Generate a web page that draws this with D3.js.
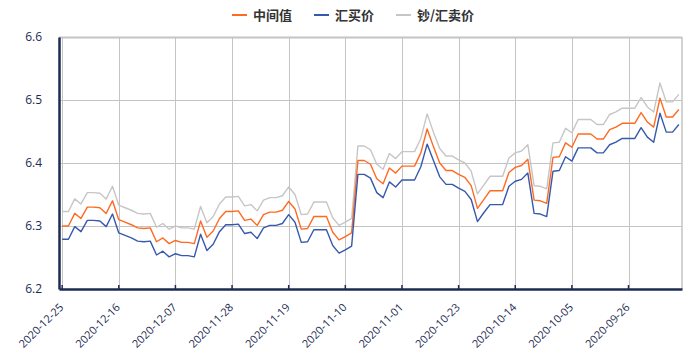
<!DOCTYPE html>
<html>
<head>
<meta charset="utf-8">
<script src="https://cdn.jsdelivr.net/npm/d3@7"></script>
<style>
body { margin: 0; background: #fff; }
</style>
</head>
<body>
<div id="chart-area"></div>
<script>
// Dates run backwards, newest on the left
var dates = [
    "2020-12-25", "2020-12-24", "2020-12-23", "2020-12-22", "2020-12-21", "2020-12-20", "2020-12-19", "2020-12-18", "2020-12-17", "2020-12-16",
    "2020-12-15", "2020-12-14", "2020-12-13", "2020-12-12", "2020-12-11", "2020-12-10", "2020-12-09", "2020-12-08", "2020-12-07", "2020-12-06",
    "2020-12-05", "2020-12-04", "2020-12-03", "2020-12-02", "2020-12-01", "2020-11-30", "2020-11-29", "2020-11-28", "2020-11-27", "2020-11-26",
    "2020-11-25", "2020-11-24", "2020-11-23", "2020-11-22", "2020-11-21", "2020-11-20", "2020-11-19", "2020-11-18", "2020-11-17", "2020-11-16",
    "2020-11-15", "2020-11-14", "2020-11-13", "2020-11-12", "2020-11-11", "2020-11-10", "2020-11-09", "2020-11-08", "2020-11-07", "2020-11-06",
    "2020-11-05", "2020-11-04", "2020-11-03", "2020-11-02", "2020-11-01", "2020-10-31", "2020-10-30", "2020-10-29", "2020-10-28", "2020-10-27",
    "2020-10-26", "2020-10-25", "2020-10-24", "2020-10-23", "2020-10-22", "2020-10-21", "2020-10-20", "2020-10-19", "2020-10-18", "2020-10-17",
    "2020-10-16", "2020-10-15", "2020-10-14", "2020-10-13", "2020-10-12", "2020-10-11", "2020-10-10", "2020-10-09", "2020-10-08", "2020-10-07",
    "2020-10-06", "2020-10-05", "2020-10-04", "2020-10-03", "2020-10-02", "2020-10-01", "2020-09-30", "2020-09-29", "2020-09-28", "2020-09-27",
    "2020-09-26", "2020-09-25", "2020-09-24", "2020-09-23", "2020-09-22", "2020-09-21", "2020-09-20", "2020-09-19", "2020-09-18"
];

// 中间值
var midRate = [
    6.300, 6.300, 6.320, 6.312, 6.330, 6.330, 6.329, 6.320, 6.340, 6.310,
    6.306, 6.302, 6.297, 6.296, 6.297, 6.275, 6.281, 6.272, 6.277, 6.274,
    6.274, 6.272, 6.308, 6.282, 6.292, 6.312, 6.323, 6.323, 6.324, 6.309,
    6.311, 6.301, 6.318, 6.322, 6.322, 6.325, 6.339, 6.327, 6.295, 6.296,
    6.315, 6.315, 6.315, 6.290, 6.278, 6.283, 6.289, 6.404, 6.404, 6.398,
    6.375, 6.367, 6.392, 6.384, 6.395, 6.395, 6.395, 6.416, 6.454, 6.426,
    6.400, 6.388, 6.388, 6.382, 6.377, 6.364, 6.328, 6.342, 6.356, 6.356,
    6.356, 6.385, 6.393, 6.396, 6.406, 6.341, 6.340, 6.336, 6.409, 6.410,
    6.432, 6.425, 6.446, 6.446, 6.446, 6.438, 6.438, 6.453, 6.457, 6.463,
    6.463, 6.463, 6.480, 6.465, 6.457, 6.503, 6.473, 6.473, 6.485
];

// 汇买价
var buyRate = [
    6.279, 6.279, 6.299, 6.291, 6.309, 6.309, 6.308, 6.299, 6.319, 6.289,
    6.285, 6.281, 6.276, 6.275, 6.276, 6.254, 6.260, 6.251, 6.256, 6.253,
    6.253, 6.251, 6.287, 6.261, 6.271, 6.291, 6.302, 6.302, 6.303, 6.288,
    6.290, 6.280, 6.297, 6.301, 6.301, 6.304, 6.318, 6.306, 6.274, 6.275,
    6.294, 6.294, 6.294, 6.269, 6.257, 6.262, 6.268, 6.382, 6.382, 6.376,
    6.353, 6.345, 6.370, 6.362, 6.373, 6.373, 6.373, 6.394, 6.430, 6.404,
    6.378, 6.366, 6.366, 6.360, 6.355, 6.342, 6.307, 6.321, 6.334, 6.334,
    6.334, 6.363, 6.371, 6.374, 6.384, 6.320, 6.319, 6.315, 6.387, 6.388,
    6.410, 6.403, 6.424, 6.424, 6.424, 6.416, 6.416, 6.429, 6.433, 6.439,
    6.439, 6.439, 6.456, 6.441, 6.433, 6.479, 6.449, 6.449, 6.461
];

// 钞/汇卖价
var sellRate = [
    6.323, 6.323, 6.343, 6.335, 6.353, 6.353, 6.352, 6.343, 6.363, 6.333,
    6.329, 6.325, 6.320, 6.319, 6.320, 6.298, 6.304, 6.295, 6.300, 6.297,
    6.297, 6.295, 6.331, 6.305, 6.315, 6.335, 6.346, 6.346, 6.347, 6.332,
    6.334, 6.324, 6.341, 6.345, 6.345, 6.348, 6.362, 6.350, 6.318, 6.319,
    6.338, 6.338, 6.338, 6.313, 6.301, 6.306, 6.312, 6.427, 6.427, 6.421,
    6.398, 6.390, 6.415, 6.407, 6.418, 6.418, 6.418, 6.439, 6.478, 6.449,
    6.423, 6.411, 6.411, 6.405, 6.400, 6.387, 6.351, 6.365, 6.379, 6.379,
    6.379, 6.408, 6.416, 6.419, 6.429, 6.364, 6.363, 6.359, 6.432, 6.433,
    6.455, 6.448, 6.469, 6.469, 6.469, 6.461, 6.461, 6.477, 6.481, 6.487,
    6.487, 6.487, 6.504, 6.489, 6.481, 6.527, 6.497, 6.497, 6.509
];

var tickDates = ["2020-12-25", "2020-12-16", "2020-12-07", "2020-11-28", "2020-11-19", "2020-11-10",
                 "2020-11-01", "2020-10-23", "2020-10-14", "2020-10-05", "2020-09-26"];
var yTicks = [6.2, 6.3, 6.4, 6.5, 6.6];

var seriesNames = ["中间值", "汇买价", "钞/汇卖价"];
var seriesColors = ["#ff6a22", "#3759ac", "#c6c6c6"];

// Canvas
var width = 699;
var height = 357;
var margin = { top: 37, right: 17, bottom: 68, left: 59 };
var innerWidth = width - margin.left - margin.right;
var innerHeight = height - margin.top - margin.bottom;
var axisColor = "#1d2b52";
var gridColor = "#c4c4c4";

var svg = d3.select("#chart-area")
    .append("svg")
    .attr("width", width)
    .attr("height", height)
    .style("font-family", "'Open Sans', 'Noto Sans', sans-serif");

var g = svg.append("g")
    .attr("transform", `translate(${margin.left}, ${margin.top})`);

var x = d3.scaleBand()
    .domain(dates)
    .range([0, innerWidth]);

var y = d3.scaleLinear()
    .domain([6.2, 6.6])
    .range([innerHeight, 0]);

var cx = d => x(d) + x.bandwidth() / 2;

// Grid
g.selectAll(".hgrid")
    .data(yTicks.slice(1))
    .enter()
    .append("line")
    .attr("x1", 0)
    .attr("x2", innerWidth)
    .attr("y1", d => Math.round(y(d)) + 0.5)
    .attr("y2", d => Math.round(y(d)) + 0.5)
    .attr("stroke", gridColor)
    .attr("stroke-width", d => d === 6.6 ? 2 : 1);

g.selectAll(".vgrid")
    .data(tickDates)
    .enter()
    .append("line")
    .attr("x1", d => Math.round(cx(d)) + 0.5)
    .attr("x2", d => Math.round(cx(d)) + 0.5)
    .attr("y1", 0)
    .attr("y2", innerHeight)
    .attr("stroke", gridColor)
    .attr("stroke-width", 1);

// right border
g.append("line")
    .attr("x1", innerWidth)
    .attr("x2", innerWidth)
    .attr("y1", 0)
    .attr("y2", innerHeight)
    .attr("stroke", gridColor)
    .attr("stroke-width", 1.5);

// Series lines
var series = [
    { name: seriesNames[2], values: sellRate, color: seriesColors[2] },
    { name: seriesNames[0], values: midRate, color: seriesColors[0] },
    { name: seriesNames[1], values: buyRate, color: seriesColors[1] }
];

var line = d3.line()
    .x((d, i) => cx(dates[i]))
    .y(d => y(d));

g.selectAll(".series")
    .data(series)
    .enter()
    .append("path")
    .attr("d", d => line(d.values))
    .attr("fill", "none")
    .attr("stroke", d => d.color)
    .attr("stroke-width", 1.4)
    .attr("stroke-linejoin", "round");

// Axes
var xAxis = g.append("g")
    .attr("transform", `translate(0, ${innerHeight})`)
    .call(d3.axisBottom(x).tickValues(tickDates).tickSize(-4).tickSizeOuter(0));

xAxis.select(".domain").attr("stroke", axisColor).attr("stroke-width", 2.5);
xAxis.selectAll(".tick line").attr("stroke", axisColor).attr("stroke-width", 1.5);
xAxis.selectAll("text")
    .attr("x", -12)
    .attr("y", 11)
    .attr("dy", "0.35em")
    .attr("text-anchor", "end")
    .attr("transform", "rotate(-45)")
    .attr("font-size", "11px")
    .attr("fill", axisColor)
    .style("font-family", "'Open Sans', sans-serif");

var yAxis = g.append("g")
    .call(d3.axisLeft(y).tickValues(yTicks).tickSize(0).tickPadding(17).tickFormat(d3.format(".1f")));

yAxis.select(".domain").attr("stroke", axisColor).attr("stroke-width", 2.5);
yAxis.selectAll("text")
    .attr("font-size", "12px")
    .attr("fill", axisColor)
    .style("font-family", "'Open Sans', sans-serif");

// Legend
var legend = svg.append("g")
    .attr("transform", "translate(232, 15)");

var legendX = 0;
seriesNames.forEach((name, i) => {
    var item = legend.append("g").attr("transform", `translate(${legendX}, 0)`);
    item.append("line")
        .attr("x1", 0)
        .attr("x2", 15)
        .attr("y1", 0)
        .attr("y2", 0)
        .attr("stroke", seriesColors[i])
        .attr("stroke-width", 2);
    var label = item.append("text")
        .attr("x", 21)
        .attr("y", 0)
        .attr("dy", "0.35em")
        .attr("font-size", "13px")
        .attr("font-weight", "bold")
        .attr("fill", "#333")
        .style("font-family", "'Noto Sans CJK SC', sans-serif")
        .text(name);
    legendX += 21 + label.node().getComputedTextLength() + 22;
});
</script>
</body>
</html>
